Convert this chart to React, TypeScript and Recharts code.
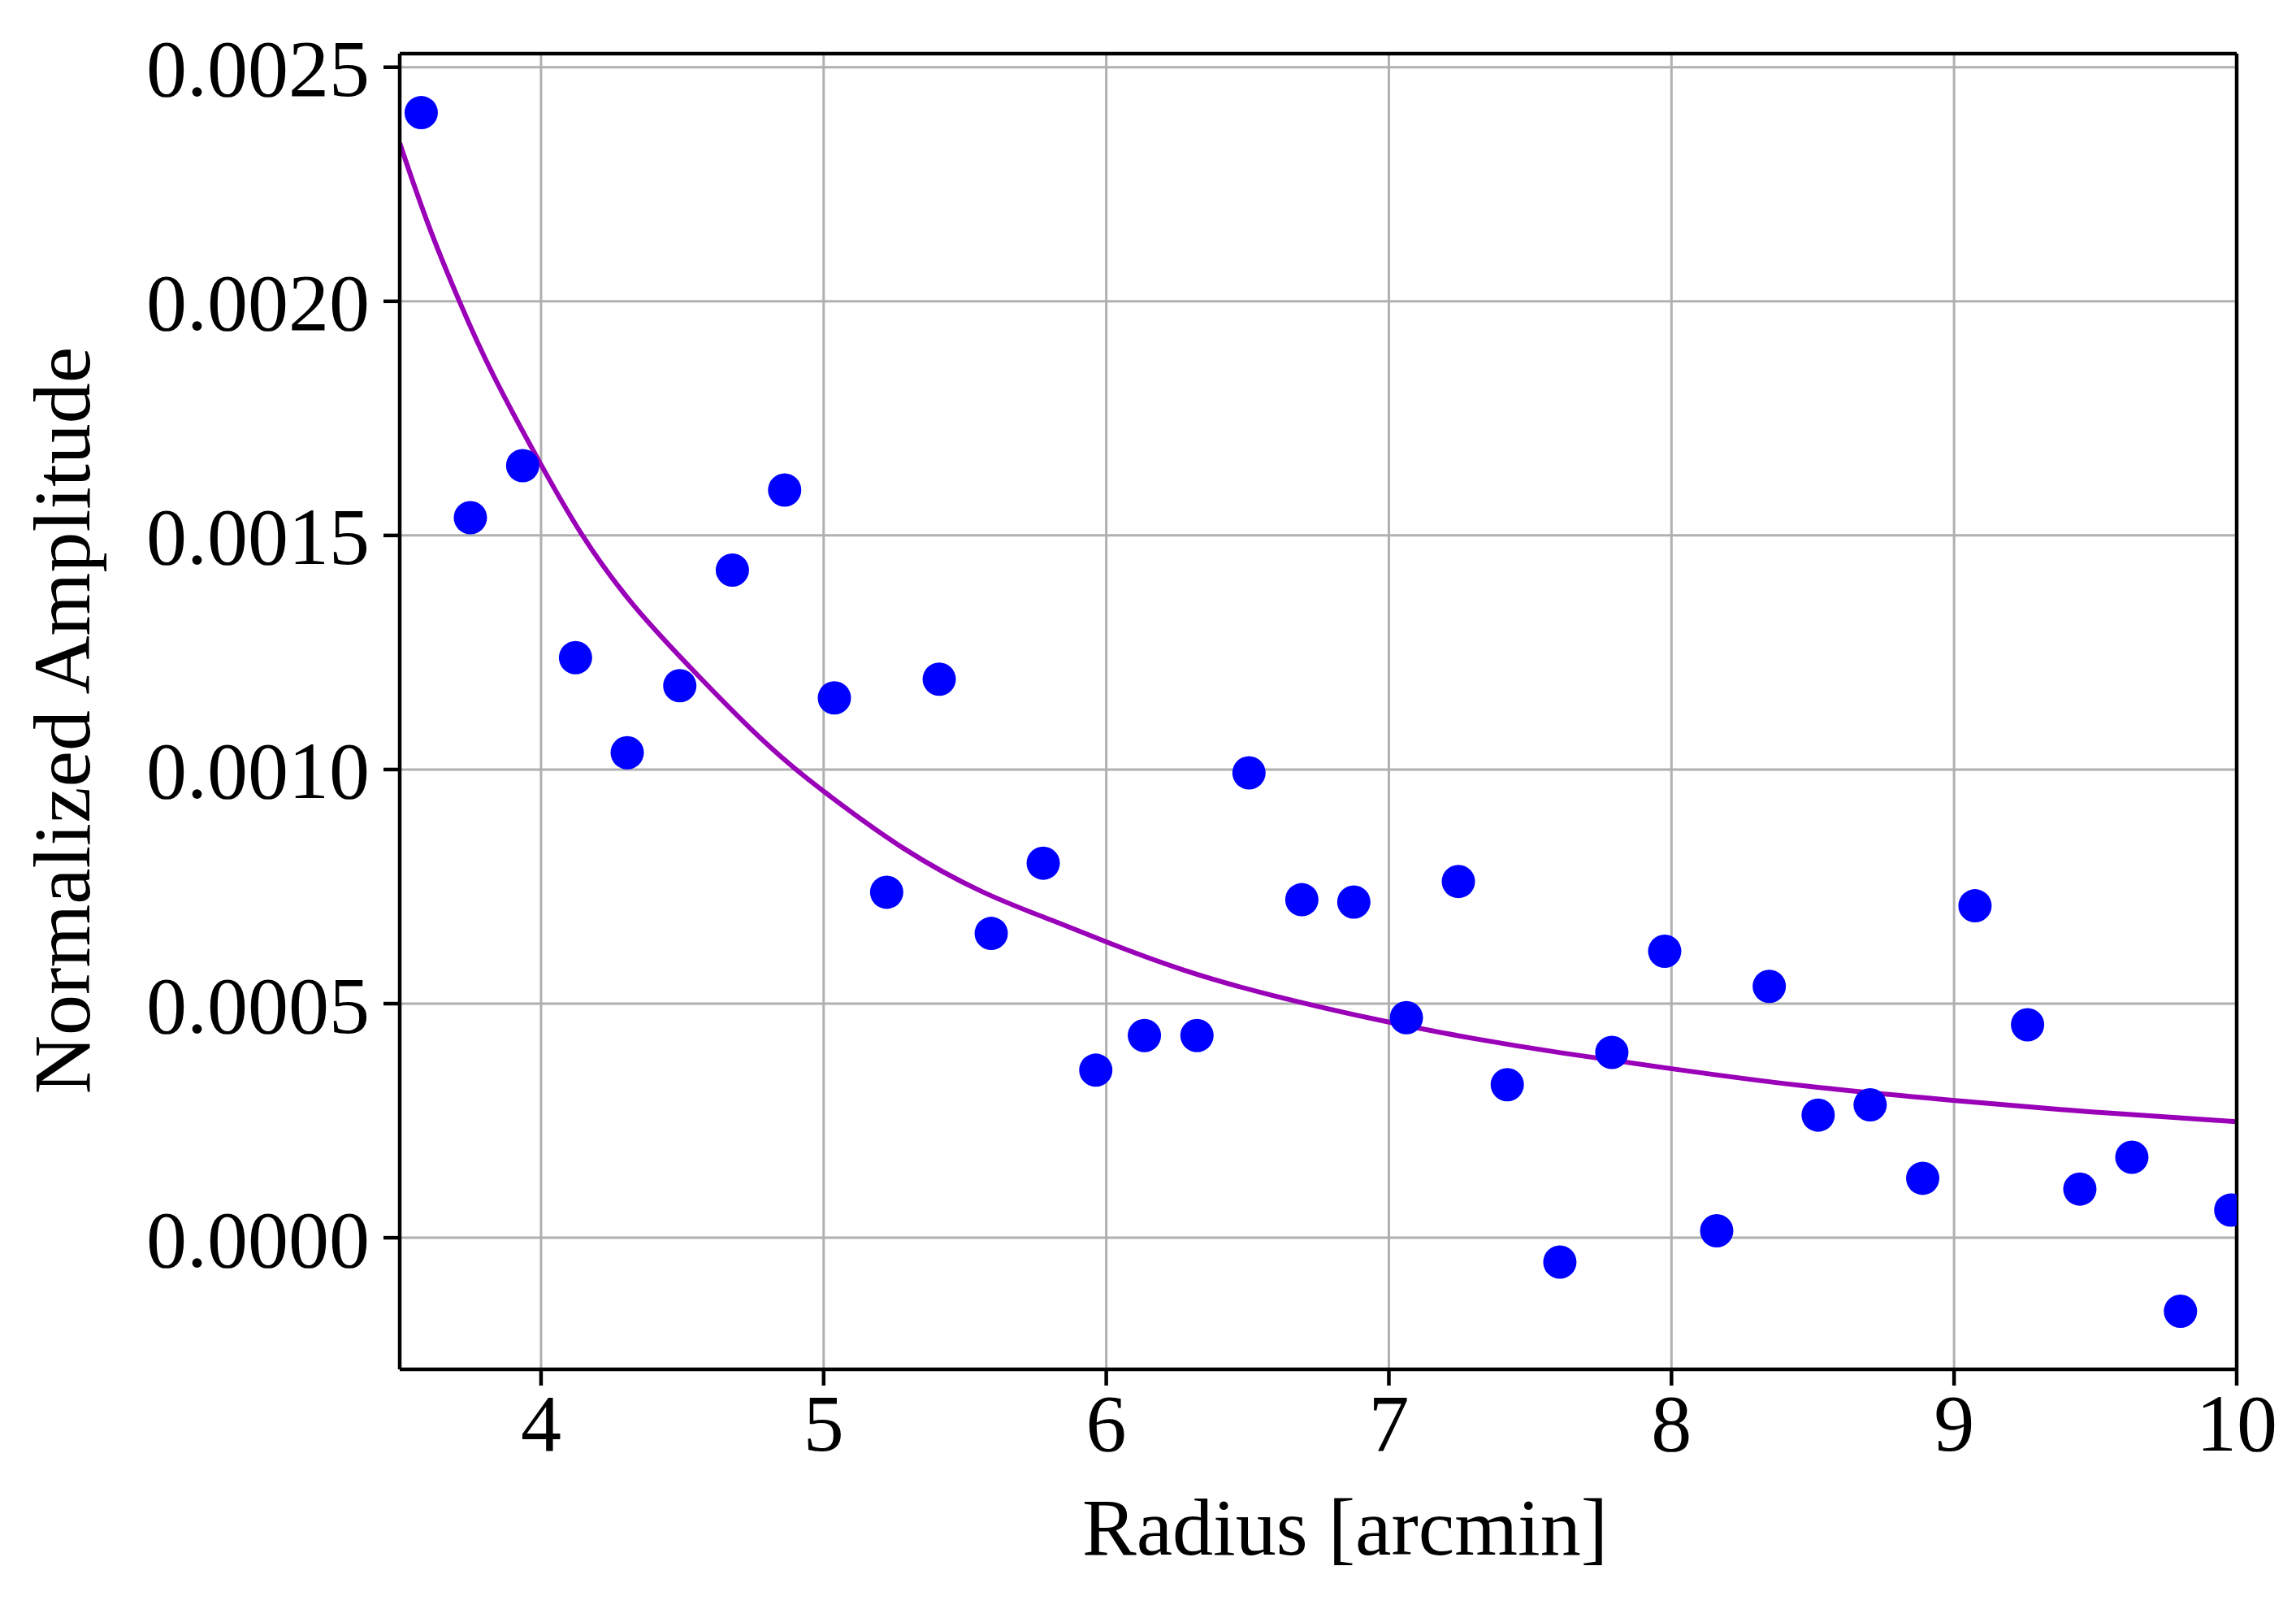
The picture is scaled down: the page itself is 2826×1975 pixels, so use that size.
import React from "react";
import {
  ComposedChart,
  Scatter,
  Line,
  XAxis,
  YAxis,
  CartesianGrid,
  ReferenceLine,
  Label,
} from "recharts";

// Measured points (radius in arcmin, normalized amplitude)
const radius = [
  3.576, 3.75, 3.935, 4.122, 4.305, 4.491, 4.677, 4.862, 5.038, 5.223, 5.409, 5.593,
  5.777, 5.963, 6.135, 6.321, 6.505, 6.692, 6.876, 7.062, 7.246, 7.419, 7.605, 7.789,
  7.976, 8.16, 8.346, 8.519, 8.703, 8.889, 9.074, 9.26, 9.445, 9.629, 9.801, 9.979,
];
const amplitude = [
  0.002403, 0.001538, 0.001649, 0.001239, 0.001036, 0.001179, 0.001426, 0.001597,
  0.001153, 0.000738, 0.001193, 0.00065, 0.0008, 0.000358, 0.000432, 0.000432,
  0.000993, 0.000722, 0.000717, 0.00047, 0.000761, 0.000327, -0.000052, 0.000396,
  0.000612, 0.000015, 0.000537, 0.000262, 0.000284, 0.000127, 0.000709, 0.000455,
  0.000104, 0.000172, -0.000157, 0.000059,
];

// Fitted model curve
const fitRadius = [
  3.5, 3.6, 3.71, 3.82, 4.0, 4.14, 4.32, 4.54, 4.75, 4.9, 5.0, 5.28, 5.57, 5.82, 6.0,
  6.27, 6.56, 7.0, 7.3, 7.6, 8.0, 8.44, 9.0, 9.48, 10.0,
];
const fitAmplitude = [
  0.002338, 0.00216, 0.002, 0.00185, 0.00165, 0.0015, 0.00135, 0.00121, 0.00108, 0.001,
  0.000953, 0.000827, 0.000732, 0.000676, 0.000631, 0.00057, 0.00052, 0.000459,
  0.000425, 0.000395, 0.000361, 0.000324, 0.000293, 0.000268, 0.000248,
];

const xTicks = [4, 5, 6, 7, 8, 9, 10];
const yTicks = [0, 0.0005, 0.001, 0.0015, 0.002, 0.0025];
const xDomain = [3.5, 10];
const yDomain = [-0.000281, 0.002529];

const points = radius.map((r, i) => ({ r, a: amplitude[i] }));
const fit = fitRadius.map((r, i) => ({ r, f: fitAmplitude[i] }));

const FONT = "'Liberation Serif', 'Times New Roman', serif";

const Dot = (props: any) => {
  const { cx, cy } = props;
  if (cx == null || cy == null) return null;
  return <circle cx={cx} cy={cy} r={20.5} fill="#0000ff" />;
};

const YLabel = (props: any) => {
  const vb = props.viewBox || { x: 0, y: 0, width: 0, height: 0 };
  const x = vb.x + 102;
  const y = vb.y + vb.height / 2 + 11;
  return (
    <text
      x={x}
      y={y}
      transform={`rotate(-90, ${x}, ${y})`}
      textAnchor="middle"
      fontSize={100}
      fontFamily={FONT}
      fill="#000"
    >
      Normalized Amplitude
    </text>
  );
};

const XLabel = (props: any) => {
  const vb = props.viewBox || { x: 0, y: 0, width: 0, height: 0 };
  const x = vb.x + vb.width / 2 + 33;
  const y = vb.y + 228;
  return (
    <text x={x} y={y} textAnchor="middle" fontSize={100} fontFamily={FONT} fill="#000">
      Radius [arcmin]
    </text>
  );
};

export default function App() {
  const tickStyle = { fontSize: 100, fontFamily: FONT, fill: "#000" };
  return (
    <div style={{ width: 2810, height: 1960, background: "#fff" }}>
      <ComposedChart
        width={2810}
        height={1960}
        margin={{ top: 58, right: 65, bottom: 0, left: 0 }}
      >
        <CartesianGrid stroke="#b0b0b0" strokeWidth={3} />
        <XAxis
          dataKey="r"
          type="number"
          domain={xDomain}
          ticks={xTicks}
          allowDataOverflow
          height={283}
          tickSize={20}
          tickMargin={9}
          tick={tickStyle}
          axisLine={{ stroke: "#000", strokeWidth: 4.5 }}
          tickLine={{ stroke: "#000", strokeWidth: 4.5 }}
        >
          <Label content={XLabel} />
        </XAxis>
        <YAxis
          type="number"
          domain={yDomain}
          ticks={yTicks}
          allowDataOverflow
          width={484}
          tickSize={20}
          tickMargin={17}
          tick={tickStyle}
          tickFormatter={(v: number) => v.toFixed(4)}
          axisLine={{ stroke: "#000", strokeWidth: 4.5 }}
          tickLine={{ stroke: "#000", strokeWidth: 4.5 }}
        >
          <Label content={YLabel} />
        </YAxis>
        <Scatter
          data={points}
          dataKey="a"
          shape={<Dot />}
          isAnimationActive={false}
        />
        <Line
          data={fit}
          dataKey="f"
          type="basis"
          stroke="#9900b8"
          strokeWidth={6}
          dot={false}
          activeDot={false}
          isAnimationActive={false}
        />
        <ReferenceLine x={10} stroke="#000" strokeWidth={4.5} />
        <ReferenceLine y={yDomain[1]} stroke="#000" strokeWidth={4.5} />
      </ComposedChart>
    </div>
  );
}
